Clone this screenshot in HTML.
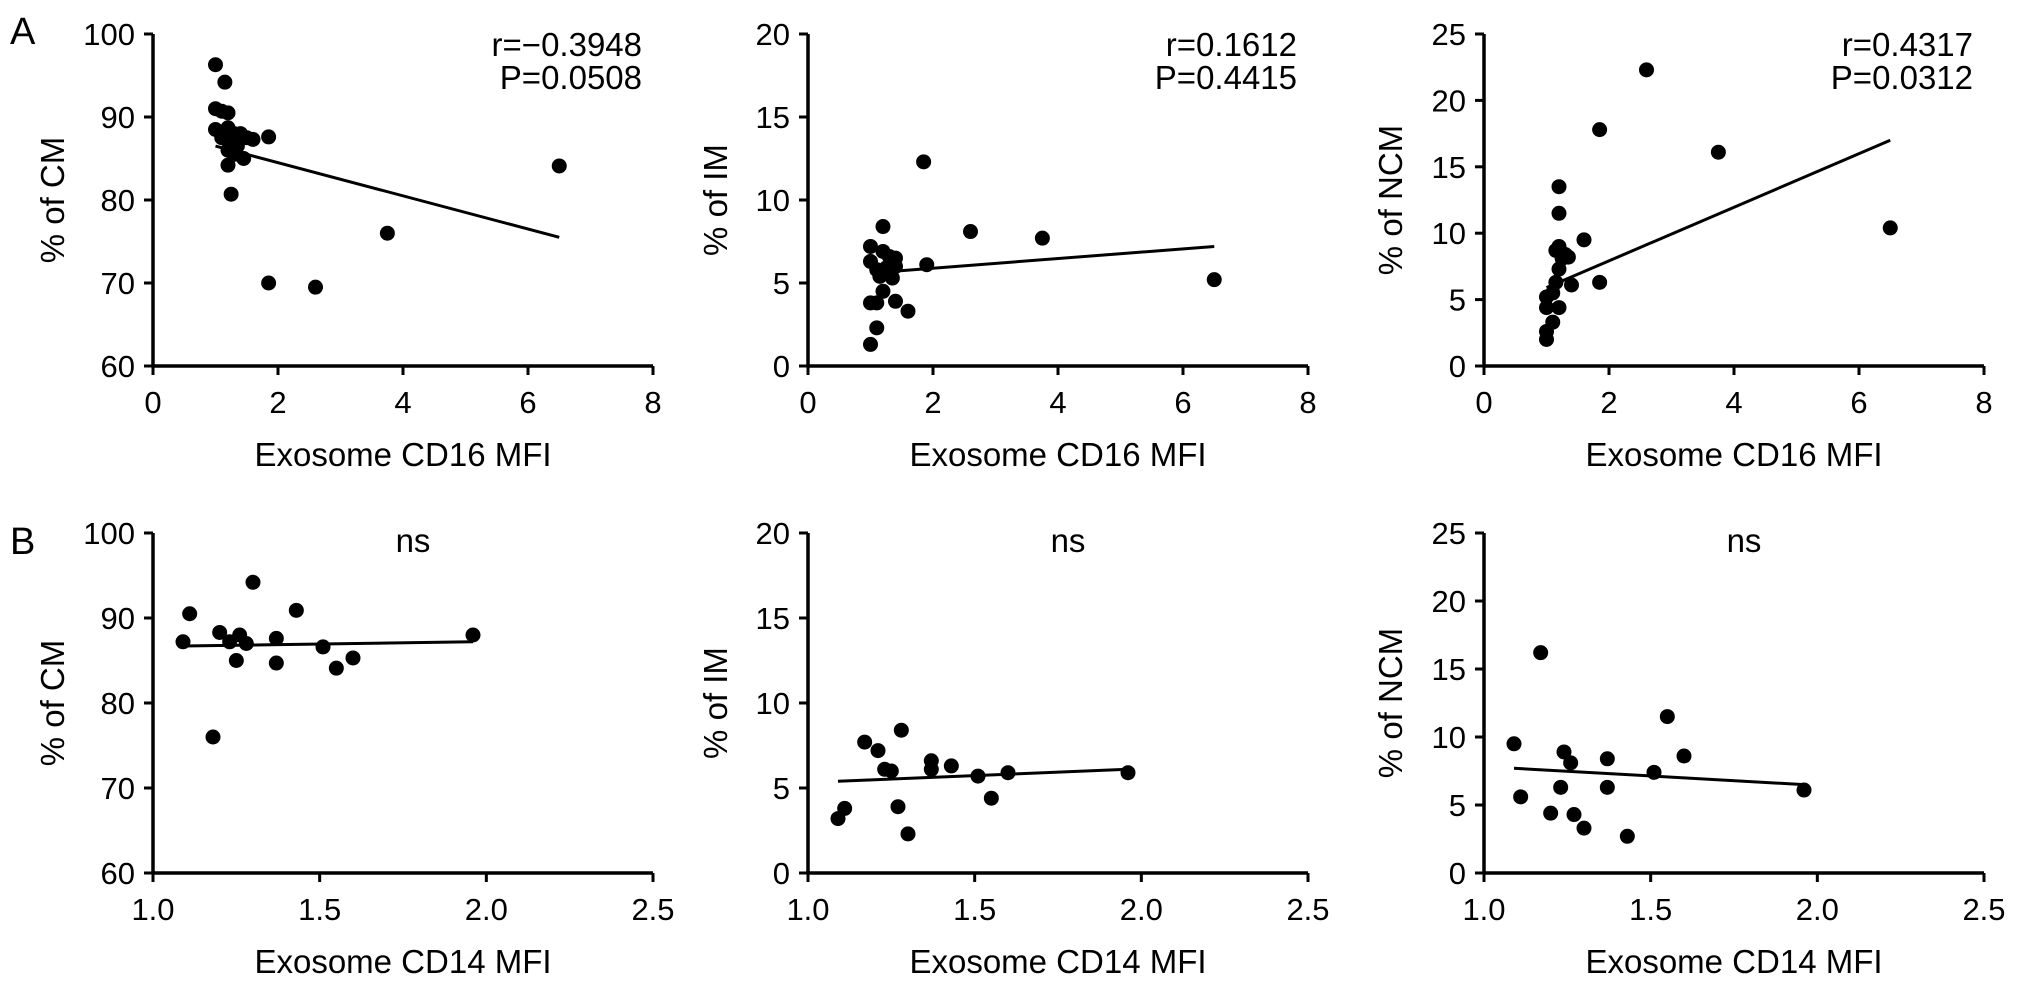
<!DOCTYPE html>
<html><head><meta charset="utf-8"><style>
html,body{margin:0;padding:0;background:#fff;}
svg{display:block;font-family:"Liberation Sans",Arial,sans-serif;}
</style></head><body>
<svg id="fig" width="2032" height="985" viewBox="0 0 2032 985">
<text x="10" y="44" font-size="38">A</text>
<text x="10" y="554" font-size="38">B</text>
</svg>
<script>
// ---- data ----
const a1x=[1.0,1.15,1.0,1.1,1.2,1.0,1.2,1.3,1.4,1.5,1.6,1.1,1.25,1.35,1.2,1.3,1.45,1.2,1.85,1.25,1.85,2.6,3.75,6.5];
const a1y=[96.3,94.2,91,90.7,90.5,88.5,88.7,88,88,87.5,87.3,87.5,87,86.5,86,85.5,85,84.2,87.6,80.7,70,69.5,76,84.1];
const a2x=[1.0,1.0,1.1,1.2,1.3,1.4,1.2,1.25,1.35,1.4,1.0,1.1,1.2,1.4,1.6,1.1,1.0,1.85,1.9,2.6,3.75,6.5,1.15];
const a2y=[7.2,6.3,5.8,6.9,6.6,6.5,8.4,5.9,5.3,6.0,3.8,3.8,4.5,3.9,3.3,2.3,1.3,12.3,6.1,8.1,7.7,5.2,5.4];
const a3x=[1.0,1.0,1.0,1.0,1.1,1.1,1.15,1.2,1.2,1.25,1.15,1.2,1.2,1.2,1.35,1.4,1.6,1.85,1.85,2.6,3.75,6.5,1.3];
const a3y=[2.0,2.6,4.4,5.2,3.3,5.5,6.3,7.3,4.4,8.1,8.7,9.0,11.5,13.5,8.2,6.1,9.5,17.8,6.3,22.3,16.1,10.4,8.4];
const b1x=[1.09,1.11,1.2,1.23,1.25,1.26,1.28,1.30,1.18,1.37,1.37,1.43,1.51,1.55,1.6,1.96];
const b1y=[87.2,90.5,88.3,87.2,85,88,87,94.2,76,87.6,84.7,90.9,86.6,84.1,85.3,88];
const b2x=[1.09,1.11,1.17,1.21,1.23,1.25,1.27,1.28,1.30,1.37,1.37,1.43,1.51,1.55,1.6,1.96];
const b2y=[3.2,3.8,7.7,7.2,6.1,6.0,3.9,8.4,2.3,6.6,6.1,6.3,5.7,4.4,5.9,5.9];
const b3x=[1.09,1.11,1.17,1.2,1.23,1.24,1.26,1.27,1.3,1.37,1.37,1.43,1.51,1.55,1.6,1.96];
const b3y=[9.5,5.6,16.2,4.4,6.3,8.9,8.1,4.3,3.3,8.4,6.3,2.7,7.4,11.5,8.6,6.1];
const fitA1=[[1.0,86.5],[6.5,75.5]];
const fitA2=[[1.0,5.6],[6.5,7.2]];
const fitA3=[[1.0,5.9],[6.5,17.0]];
const fitB1=[[1.09,86.7],[1.96,87.2]];
const fitB2=[[1.09,5.4],[1.96,6.1]];
const fitB3=[[1.09,7.7],[1.96,6.5]];
const xTicksA=[0,2,4,6,8];
const xTicksB=[1.0,1.5,2.0,2.5];
const yTicksCM=[60,70,80,90,100];
const yTicksIM=[0,5,10,15,20];
const yTicksNCM=[0,5,10,15,20,25];
const statsA=[["r=\u22120.3948","P=0.0508"],["r=0.1612","P=0.4415"],["r=0.4317","P=0.0312"]];

const svg=document.getElementById('fig');
const NS='http://www.w3.org/2000/svg';
function mk(tag,attrs){const e=document.createElementNS(NS,tag);for(const k in attrs)e.setAttribute(k,attrs[k]);svg.appendChild(e);return e;}

function panel(o){
  const sx=v=>o.left+(v-o.xmin)/(o.xmax-o.xmin)*o.w;
  const sy=v=>o.bottom-(v-o.ymin)/(o.ymax-o.ymin)*(o.bottom-o.top);
  let e=mk('line',{x1:o.left,y1:o.top,x2:o.left,y2:o.bottom,stroke:'#000','stroke-width':3.5});
  
  
  e=mk('line',{x1:o.left,y1:o.bottom,x2:o.left+o.w,y2:o.bottom,stroke:'#000','stroke-width':3.5});
  
  
  o.yt.forEach(v=>{
    const y=sy(v);
    let t=mk('line',{x1:o.left-9,y1:y,x2:o.left,y2:y,stroke:'#000','stroke-width':3});
    
    
    t=mk('text',{x:o.left-18,y:y+11,'font-size':31,'text-anchor':'end'});
    t.textContent=v;
    
    
  });
  o.xt.forEach(v=>{
    const x=sx(v);
    let t=mk('line',{x1:x,y1:o.bottom,x2:x,y2:o.bottom+9,stroke:'#000','stroke-width':3});
    
    
    t=mk('text',{x:x,y:o.bottom+47,'font-size':31,'text-anchor':'middle'});
    t.textContent=o.xfmt?v.toFixed(1):v;
    
    
  });
  let t=mk('text',{x:o.left+o.w/2,y:o.bottom+100,'font-size':33,'text-anchor':'middle'});
  t.textContent=o.xlabel;
  
  
  const cy=(o.top+o.bottom)/2, tx=o.left-o.yoff;
  t=mk('text',{x:tx,y:cy,'font-size':33,'text-anchor':'middle',transform:`rotate(-90 ${tx} ${cy})`});
  t.setAttribute('dy','11');
  t.textContent=o.ylabel;
  
  
  o.xs.forEach((v,i)=>{
    const c=mk('circle',{cx:sx(v),cy:sy(o.ys[i]),r:7.5,fill:'#000'});
    
    
  });
  const l=mk('line',{x1:sx(o.fit[0][0]),y1:sy(o.fit[0][1]),x2:sx(o.fit[1][0]),y2:sy(o.fit[1][1]),stroke:'#000','stroke-width':3});
  
  
  if(o.stats){
    o.stats.forEach((s,i)=>{
      const st=mk('text',{x:o.left+o.w-11,y:o.top+22+i*33,'font-size':33,'text-anchor':'end'});
      st.textContent=s;
      
      
    });
  } else {
    const st=mk('text',{x:o.left+o.w*0.52,y:o.top+19,'font-size':33,'text-anchor':'middle'});
    st.textContent='ns';
    
    
  }
}
const lefts=[153,808,1484], W=500, yoffs=[100,92,93];
const A={top:34,bottom:366}, B={top:533,bottom:873};
const labs=['% of CM','% of IM','% of NCM'];
const yts=[yTicksCM,yTicksIM,yTicksNCM];
const ranges=[[60,100],[0,20],[0,25]];
const ax=[a1x,a2x,a3x], ay=[a1y,a2y,a3y], bx=[b1x,b2x,b3x], by=[b1y,b2y,b3y];
const fa=[fitA1,fitA2,fitA3], fb=[fitB1,fitB2,fitB3];
for(let i=0;i<3;i++){
  panel({id:'a'+(i+1),left:lefts[i],w:W,top:A.top,bottom:A.bottom,xmin:0,xmax:8,ymin:ranges[i][0],ymax:ranges[i][1],xt:xTicksA,yt:yts[i],xs:ax[i],ys:ay[i],fit:fa[i],xlabel:'Exosome CD16 MFI',ylabel:labs[i],stats:statsA[i],yoff:yoffs[i]});
  panel({id:'b'+(i+1),left:lefts[i],w:W,top:B.top,bottom:B.bottom,xmin:1.0,xmax:2.5,ymin:ranges[i][0],ymax:ranges[i][1],xt:xTicksB,yt:yts[i],xs:bx[i],ys:by[i],fit:fb[i],xlabel:'Exosome CD14 MFI',ylabel:labs[i],xfmt:true,yoff:yoffs[i]});
}
</script>
</body></html>
